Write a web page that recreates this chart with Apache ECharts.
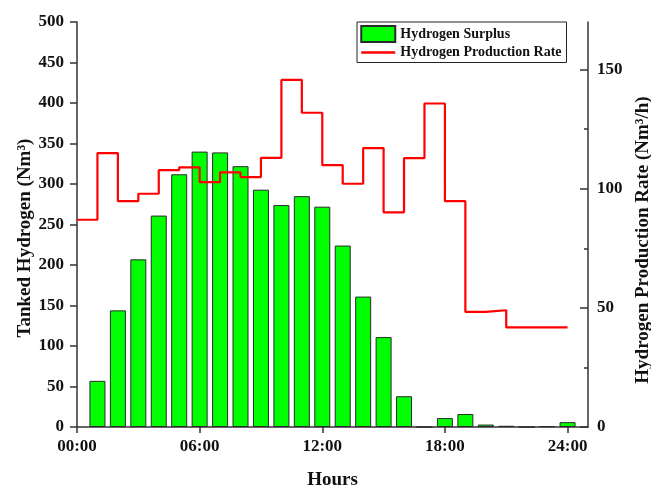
<!DOCTYPE html>
<html>
<head>
<meta charset="utf-8">
<script src="https://cdn.jsdelivr.net/npm/echarts@6/dist/echarts.min.js"></script>
<style>
  html, body { margin: 0; padding: 0; background: #ffffff; }
  #chart { width: 651px; height: 488px; }
</style>
</head>
<body>
<div id="chart"></div>
<script>
// Hourly tank surplus (bars, left axis) and electrolyser production rate (step line, right axis)
const barHours = [1, 2, 3, 4, 5, 6, 7, 8, 9, 10, 11, 12, 13, 14, 15, 16, 17, 18, 19, 20, 21, 22, 23, 24];
const surplus = [57, 144, 207, 261, 312, 340, 339, 322, 293, 274, 285, 272, 224, 161, 111, 38, 0, 11, 16, 3, 1.5, 0, 1, 6];

const rateHours = [0, 1, 2, 3, 4, 5, 6, 7, 8, 9, 10, 11, 12, 13, 14, 15, 16, 17, 18, 19, 20, 21, 22, 23];
const rate = [87.0, 115.0, 94.8, 97.9, 107.8, 109.0, 102.8, 106.9, 104.9, 113.0, 145.7, 131.9,
              109.9, 102.1, 117.1, 90.1, 112.9, 135.8, 94.8, 48.3, 49.0, 41.8, 41.8, 41.8];
const dayEnd = 24;

const xTicks = [0, 6, 12, 18, 24];
const rightTicks = [0, 50, 100, 150];
const rightMinorTicks = [25, 75, 125];

const FONT = "'Liberation Serif', 'Times New Roman', serif";
const INK = '#111111';
const AXIS = '#333333';

// each rate holds for one hour; close the last interval at the end of the day
const ratePoints = rateHours.map((h, i) => [h, rate[i]]);
ratePoints.push([dayEnd, rate[rate.length - 1]]);

const pad2 = v => (v < 10 ? '0' : '') + v;

const titleStyle = (shift) => ({
  fontFamily: FONT, fontWeight: 'bold', fontSize: 19, color: INK,
  // rotated titles sit a little below the middle of the axis
  padding: [0, shift, 0, 0]
});

const chart = echarts.init(document.getElementById('chart'), null, { renderer: 'canvas' });
chart.setOption({
  animation: false,
  backgroundColor: '#ffffff',
  grid: { left: 77, right: 63, top: 22, bottom: 61, containLabel: false, outerBoundsMode: 'none' },
  legend: {
    orient: 'vertical',
    left: 357,
    top: 22,
    padding: [3, 5, 2, 3],
    itemGap: 1.5,
    itemWidth: 34,
    itemHeight: 16,
    borderColor: '#222222',
    borderWidth: 1,
    backgroundColor: '#ffffff',
    textStyle: { fontFamily: FONT, fontWeight: 'bold', fontSize: 14, color: INK, lineHeight: 16 },
    data: [
      { name: 'Hydrogen Surplus', icon: 'rect' },
      {
        name: 'Hydrogen Production Rate',
        itemStyle: { color: 'rgba(0,0,0,0)', borderWidth: 0 },
        lineStyle: { color: '#ff0000', width: 2.5 }
      }
    ]
  },
  xAxis: {
    type: 'value',
    min: 0,
    max: 25,
    name: 'Hours',
    nameLocation: 'middle',
    nameGap: 44,
    nameMoveOverlap: false,
    nameTextStyle: { fontFamily: FONT, fontWeight: 'bold', fontSize: 19, color: INK },
    axisLine: { show: true, lineStyle: { color: AXIS, width: 1.5 } },
    axisTick: { show: true, customValues: xTicks, length: 6, lineStyle: { color: AXIS, width: 1.5 } },
    axisLabel: {
      customValues: xTicks,
      margin: 11,
      fontFamily: FONT, fontWeight: 'bold', fontSize: 17, color: INK,
      formatter: v => pad2(v) + ':00'
    },
    splitLine: { show: false }
  },
  yAxis: [
    {
      type: 'value',
      position: 'left',
      min: 0,
      max: 500,
      interval: 50,
      name: 'Tanked Hydrogen (Nm³)',
      nameLocation: 'middle',
      nameGap: 42,
      nameMoveOverlap: false,
      nameTextStyle: titleStyle(27),
      axisLine: { show: true, lineStyle: { color: AXIS, width: 1.5 } },
      axisTick: { show: true, length: 7, lineStyle: { color: AXIS, width: 1.5 } },
      axisLabel: { margin: 13, fontFamily: FONT, fontWeight: 'bold', fontSize: 17, color: INK },
      splitLine: { show: false }
    },
    {
      type: 'value',
      position: 'right',
      min: 0,
      max: 170,
      name: 'Hydrogen Production Rate (Nm³/h)',
      nameLocation: 'middle',
      nameGap: 46,
      nameMoveOverlap: false,
      nameTextStyle: titleStyle(31),
      axisLine: { show: true, lineStyle: { color: AXIS, width: 1.5 } },
      axisTick: { show: true, inside: true, customValues: rightTicks, length: 8, lineStyle: { color: AXIS, width: 1.5 } },
      axisLabel: { customValues: rightTicks, margin: 9, fontFamily: FONT, fontWeight: 'bold', fontSize: 17, color: INK },
      splitLine: { show: false }
    },
    {
      // minor ticks of the rate axis
      type: 'value',
      position: 'right',
      min: 0,
      max: 170,
      axisLine: { show: false },
      axisTick: { show: true, inside: true, customValues: rightMinorTicks, length: 4, lineStyle: { color: AXIS, width: 1.5 } },
      axisLabel: { show: false },
      splitLine: { show: false }
    }
  ],
  series: [
    {
      name: 'Hydrogen Surplus',
      type: 'bar',
      yAxisIndex: 0,
      barWidth: 16,
      itemStyle: { color: '#00ff00', borderColor: '#2a2a2a', borderWidth: 1 },
      data: barHours.map((h, i) => [h, surplus[i]])
    },
    {
      name: 'Hydrogen Production Rate',
      type: 'line',
      yAxisIndex: 1,
      step: 'end',
      symbol: 'none',
      lineStyle: { color: '#ff0000', width: 2.2 },
      itemStyle: { color: '#ff0000' },
      data: ratePoints
    }
  ]
});
</script>
</body>
</html>
